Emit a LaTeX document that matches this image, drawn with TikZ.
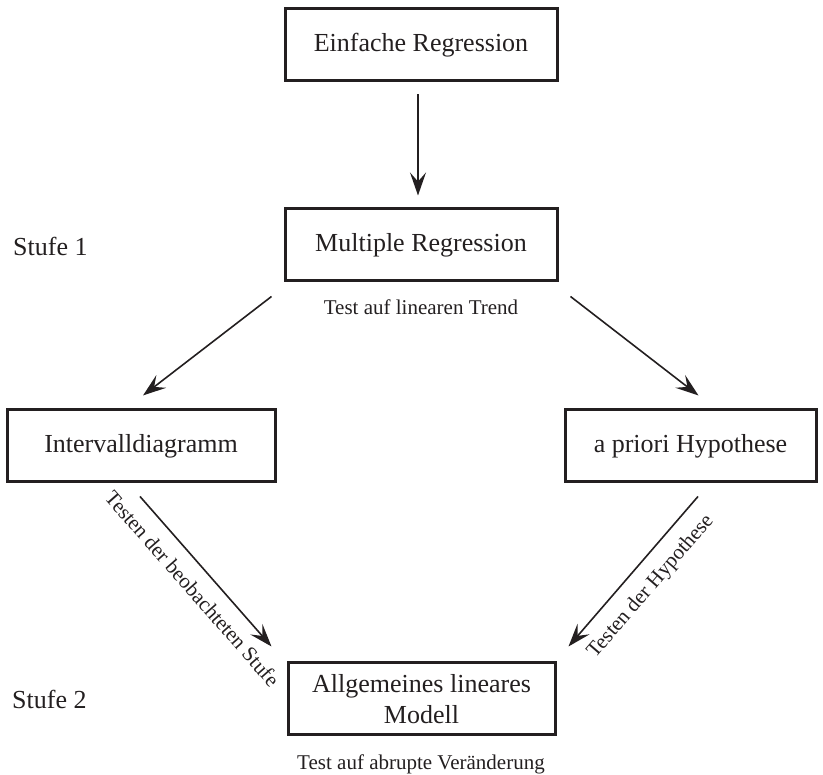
\documentclass[tikz,border=0pt]{standalone}
\usepackage{fontspec}
\setmainfont{Liberation Serif}
\usetikzlibrary{arrows.meta,calc}
\definecolor{ink}{HTML}{231F20}
\begin{document}
\begin{tikzpicture}[x=1pt,y=1pt,
  box/.style={draw=ink, line width=3pt, minimum height=72pt, inner sep=0pt,
    font=\fontsize{26}{31}\selectfont, text=ink, align=center},
  lab/.style={font=\fontsize{21}{25}\selectfont, text=ink, inner sep=1pt},
  stufe/.style={font=\fontsize{26}{31}\selectfont, text=ink, inner sep=0pt, anchor=west},
  conn/.style={draw=ink, line width=1.6pt, -{Stealth[length=23pt,width=16pt,inset=9pt]}}]
\useasboundingbox (0,0) rectangle (823,775);
\node[box, minimum width=272pt] (E) at (421,730) {Einfache Regression};
\node[box, minimum width=272pt] (M) at (421,530) {Multiple Regression};
\node[box, minimum width=268pt] (I) at (141,329) {Intervalldiagramm};
\node[box, minimum width=251pt] (H) at (690.5,329) {a priori Hypothese};
\node[box, minimum width=267pt] (A) at (421.5,76) {Allgemeines lineares\\Modell};
\node[stufe] (S1) at (13,529) {Stufe 1};
\node[stufe] (S2) at (12,76) {Stufe 2};
\node[lab] (T1) at (421,468) {Test auf linearen Trend};
\node[lab] (T2) at (421,11) {Test auf abrupte Veränderung};
\draw[conn] ($(E.south)+(-3,-12)$) -- ($(M.north)+(-3,12)$);
\draw[conn] ($(M.south west)+(-12,-14)$) -- ($(I.north)+(2,13)$);
\draw[conn] ($(M.south east)+(12,-14)$) -- ($(H.north)+(8,13)$);
\draw[conn] ($(I.south)+(-1,-13)$) -- ($(A.north west)+(-15,15)$)
  node[lab, pos=0.52, sloped, below=12pt] {Testen der beobachteten Stufe};
\draw[conn] ($(H.south)+(7.5,-13)$) -- ($(A.north east)+(12,15)$)
  node[lab, pos=0.5, sloped, below=12pt] {Testen der Hypothese};
\end{tikzpicture}
\end{document}
